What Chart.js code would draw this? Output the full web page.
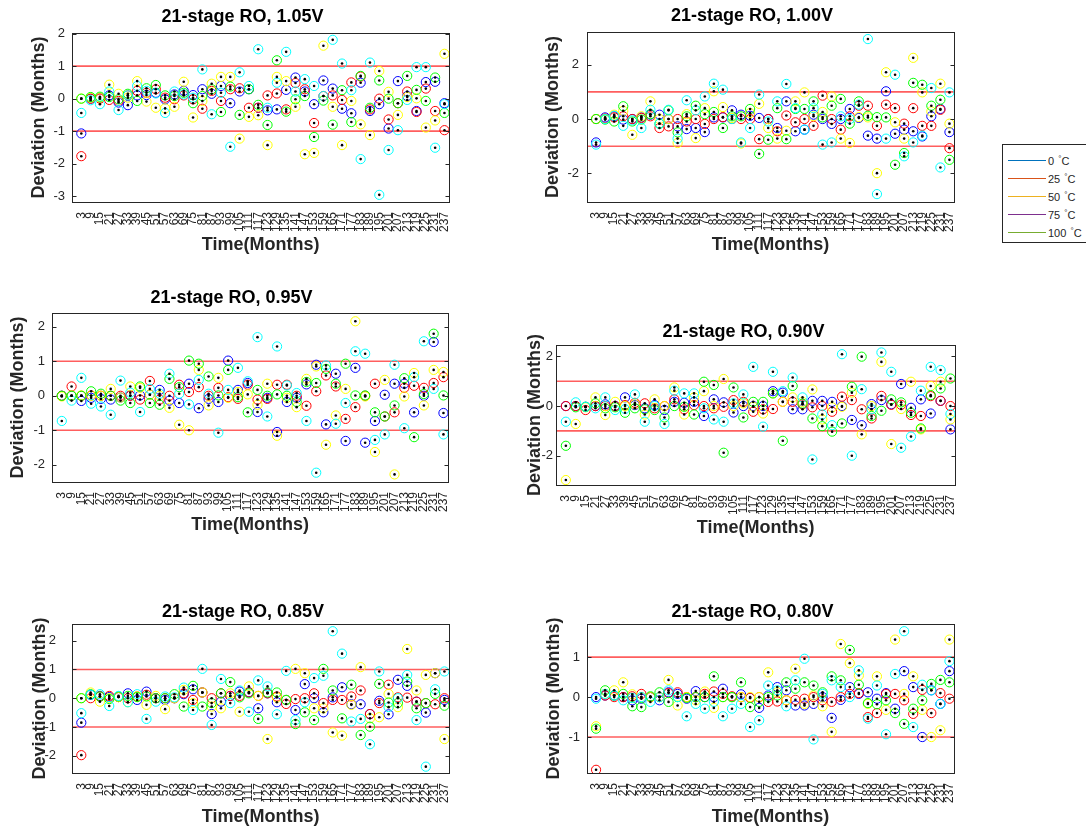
<!DOCTYPE html>
<html>
<head>
<meta charset="utf-8">
<script src="https://cdn.jsdelivr.net/npm/chart.js@4.4.1/dist/chart.umd.min.js"></script>
<style>
  body { margin: 0; background: #fff; width: 1086px; height: 829px; overflow: hidden; position: relative; }
  canvas { position: absolute; }
  #legend { position: absolute; left: 1002px; top: 144px; width: 100px; height: 99px; border: 1px solid #262626; box-sizing: border-box; background: #fff; }
  .swatch { position: absolute; left: 5px; width: 38px; height: 1px; }
  .lbl { position: absolute; left: 45px; font-family: "Liberation Sans", Arial, sans-serif; font-size: 11px; line-height: 12px; color: #262626; white-space: nowrap; }
  .lbl span { font-size: 8px; position: relative; top: -4px; margin-left: 1px; }
</style>
</head>
<body>
<div id="legend"></div>
<script>
// x categories (months)
const months = [3, 9, 15, 21, 27, 33, 39, 45, 51, 57, 63, 69, 75, 81, 87, 93, 99, 105, 111, 117,
  123, 129, 135, 141, 147, 153, 159, 165, 171, 177, 183, 189, 195, 201, 207, 213, 219, 225, 231, 237];

const temps = ['0', '25', '50', '75', '100'];
const limits = [1, -1];

// 1.05V
const b105 = [-1.07, 0, 0.02, 0.1, -0.12, -0.2, 0.1, 0.11, 0.18, -0.02, 0.13, 0.24, 0.11, 0.29, 0.15, 0.39, -0.14, 0.22, 0.29, -0.28,
  -0.36, -0.33, 0.27, 0.65, 0.22, -0.17, 0.56, 0.31, -0.31, -0.45, 0.49, -0.38, -0.17, -0.92, 0.54, 0.08, -0.38, 0.51, 0.52, -0.14];
const r105 = [-1.77, 0, 0, -0.04, -0.07, 0.1, 0.24, 0.18, 0.29, 0.03, -0.02, 0.1, -0.02, -0.31, 0.24, -0.07, 0.29, 0.32, -0.28, -0.28,
  0.1, 0.16, -0.33, 0.48, 0.29, -0.75, 0.08, 0.1, -0.04, 0.5, 0.68, -0.33, 0, -0.64, -0.14, 0.22, -0.41, 0.31, -0.38, -0.97];
const y105 = [0, 0.03, 0.03, 0.43, 0.15, 0.03, 0.54, -0.09, -0.28, -0.3, -0.25, 0.52, -0.58, -0.07, 0.46, 0.67, 0.67, -1.23, -0.56, -0.51,
  -1.43, 0.67, 0.54, -0.25, -1.71, -1.67, 1.63, -0.25, -1.43, -0.07, -0.79, -1.12, 0.85, 0.21, -0.5, 0.05, 0.01, -0.89, -0.67, 1.38];
const g105 = [0, 0.05, 0.06, 0.05, -0.02, 0.15, -0.07, 0.32, 0.42, 0.1, 0.08, 0.18, -0.14, 0.08, 0.29, -0.41, 0.37, -0.5, 0.29, -0.19,
  -0.81, 1.18, -0.4, -0.02, 0.08, -1.18, -0.06, -0.8, 0.26, -0.72, 0.7, -0.28, 0.56, 0, -0.14, 0.7, 0.27, -0.07, 0.65, -0.44];
const c105 = [-0.44, -0.05, -0.17, 0.22, -0.35, 0.1, 0.39, 0.24, 0.16, -0.44, 0.22, 0.13, 0.03, 0.9, -0.48, 0.18, -1.48, 0.81, 0.39, 1.52,
  -0.28, 0.49, 1.44, 0.22, 0.6, 0.39, 0.08, 1.81, 1.08, 0.26, -1.86, 1.11, -2.96, -1.58, -0.97, -0.04, 0.97, 0.97, -1.51, -0.17];

// 1.00V
const b100 = [-0.86, 0.06, 0.1, -0.02, 0, 0.06, 0.16, 0.16, 0, -0.27, -0.37, -0.33, -0.48, 0.06, 0.06, 0.32, 0.16, 0.12, 0.04, 0,
  -0.33, 0.65, -0.45, -0.39, 0.16, 0, -0.18, 0, 0.37, 0.04, -0.61, -0.72, 1.02, -0.54, -0.39, -0.45, -0.64, 0.1, 0.37, -0.48];
const r100 = [0, 0.02, 0.06, 0.1, 0, 0.04, 0.1, -0.33, -0.27, 0, -0.09, 0, -0.18, 0, 0.07, 0, 0, 0, -0.74, 0,
  -0.45, 0.13, -0.12, 0, -0.25, 0.86, 0, -0.39, 0.1, 0.49, 0.49, -0.25, 0.53, 0.4, -0.17, 0.4, -0.25, -0.25, 0.34, -1.07];
const y100 = [0, 0, 0.16, 0.3, -0.58, 0.1, 0.65, 0, 0, -0.88, 0.18, -0.7, 0.4, 1.02, 0.44, 0.04, -0.9, 0.22, 0.56, -0.33,
  -0.72, -0.43, 0.65, 0.98, 0.1, 0.26, 0.83, -0.72, -0.88, 0.07, 0.06, -1.99, 1.72, -0.12, -0.72, 2.25, 0.98, 0.28, 1.3, -0.17];
const g100 = [0, -0.02, -0.09, 0.47, -0.09, -0.02, 0.18, -0.17, 0.32, -0.49, 0.1, 0.49, 0.18, 0.26, -0.33, 0.1, 0.1, 0.37, -1.28, -0.76,
  0.4, -0.74, 0.37, 0.37, 0.65, 0.06, 0.49, 0.74, -0.17, 0.65, 0.12, 0.07, 0.06, -1.68, -1.25, 1.33, 1.26, 0.49, 0.71, -1.5];
const c100 = [-0.94, 0, 0.12, -0.25, -0.05, -0.33, 0.34, -0.17, 0.34, -0.72, 0.69, 0.32, 0.83, 1.3, 1.08, 0, -0.86, -0.33, 0.9, -0.09,
  0.65, 1.29, 0.4, -0.39, 0.4, -0.94, -0.86, 0.1, 0, 0.53, 2.94, -2.76, -0.72, 1.63, -1.37, -0.86, -0.61, 1.14, -1.78, 0.98];

// 0.95V
const b095 = [0, 0, -0.15, -0.06, -0.09, -0.11, -0.05, 0.01, 0.01, 0.03, 0.17, -0.14, -0.21, 0.35, -0.36, -0.09, -0.18, 1.02, 0.17, 0.37,
  -0.47, -0.06, -1.05, -0.18, -0.06, 0.33, 0.9, -0.83, 0.64, -1.31, 0.81, -1.36, -0.73, 0.03, 0.35, 0.35, -0.48, 0, 1.56, -0.5];
const r095 = [0, 0.27, 0, 0.01, 0, 0, 0, 0, -0.11, 0.43, -0.11, 0, 0.32, 0.11, 0.25, 0, 0.23, -0.04, -0.09, 0.32,
  -0.11, -0.09, 0.32, 0.32, 0, -0.29, 0.13, 0.59, 0.27, -0.67, -0.33, 0, 0.35, -0.6, -0.48, 0.23, 0.29, 0.23, 0.37, 0.54];
const y095 = [-0.02, 0.01, 0.01, 0, 0, 0.2, -0.05, 0.27, 0.23, 0.03, 0, -0.35, -0.84, -1.0, 0.75, -0.28, 0.52, -0.06, 0.11, 0.04,
  -0.26, 0.35, -1.16, -0.06, -0.33, 0.49, 0.85, -1.42, -0.57, 0.2, 2.16, -0.02, -1.63, 0.46, -2.28, -0.02, 0.66, -0.28, 0.75, 0.69];
const g095 = [0, 0, 0, 0.13, 0.06, 0, -0.14, -0.21, 0.27, -0.21, -0.26, 0.49, 0.25, 1.02, 0.93, 0.56, 0.01, 0.75, -0.04, -0.48,
  0.17, 0, 0.04, 0, -0.18, 0.4, 0.37, 0.78, 0.35, 0.93, 0.01, 0.01, -0.48, -0.6, -0.28, 0.51, -1.2, 0.05, 1.8, 0.01];
const c095 = [-0.73, -0.14, 0.52, -0.23, -0.31, -0.55, 0.44, 0.09, -0.47, 0.2, 0.06, 0.64, 0.06, -0.25, 0.46, 0.06, -1.07, 0.17, 0.81, 0.42,
  1.7, -0.6, 1.43, 0.3, 0.08, -0.73, -2.23, 0.88, -0.81, -0.21, 1.29, 1.22, -1.28, -1.12, 0.9, -0.94, 0.54, 1.58, 0.2, -1.12];

// 0.90V
const b090 = [0, 0, -0.03, 0, 0.07, 0, 0.35, 0.04, -0.09, 0.04, -0.16, 0.17, 0.13, 0.17, -0.4, 0.27, 0.15, -0.26, 0, 0,
  0, 0.6, 0.54, -0.13, -0.13, 0.21, 0.21, 0.17, 0, -0.56, -0.77, 0.08, 0.24, 0.07, 0.89, -0.07, 0.27, -0.3, 0.21, -0.94];
const r090 = [0, 0, -0.16, 0, 0, 0, 0.04, 0.13, 0.11, -0.09, 0, 0.27, -0.13, 0.04, 0, -0.09, -0.03, 0.24, 0.17, -0.23,
  -0.13, -0.12, 0.17, 0.17, 0.07, -0.05, 0, -0.23, 0.38, 0.24, -0.13, -0.5, 0.41, 0.05, 0.05, -0.36, -0.4, 0.4, 0.21, 0];
const y090 = [-2.98, -0.72, -0.05, 0.35, -0.36, 0.17, 0, 0.07, -0.34, 0.27, 0, 0.75, -0.34, 0.35, 0.6, 0, 1.09, 0, 0.11, -0.03,
  -0.3, 0.51, 0.17, 0.35, 0.17, 0.67, -0.54, -0.05, -0.03, 0.54, -1.14, 0, 1.78, -1.53, -0.12, 0.98, -0.94, 0.81, 0.98, -0.54];
const g090 = [-1.6, -0.05, -0.03, 0.11, -0.09, -0.05, -0.27, -0.09, -0.13, -0.16, -0.46, 0, -0.03, -0.34, 0.98, 0.85, -1.88, 0.75, -0.46, 0.17,
  0.17, 0.51, -1.4, 0.81, 0.1, -0.5, -0.81, -1.03, -0.7, 0.78, 1.99, -0.4, -0.19, 0.27, 0.15, -0.27, -0.9, 0.44, 0.71, 1.11];
const c090 = [-0.63, 0.15, -0.03, -0.09, 0.35, -0.16, -0.12, 0.47, -0.63, 0, -0.72, 0.62, 0.51, 0.51, -0.09, -0.54, -0.63, 0.11, 0.47, 1.58,
  -0.83, 1.38, 0.6, 1.15, 0.35, -2.15, -0.34, -0.77, 2.09, -2.0, 0.68, -0.13, 2.16, 1.38, -1.68, -1.23, 0.62, 1.58, 1.45, -0.32];

// 0.85V
const b085 = [-0.85, 0.12, 0.08, 0.04, 0.04, 0.17, -0.06, 0.23, 0, -0.06, 0, 0.14, 0.31, 0.2, -0.55, -0.12, 0.08, 0.23, 0.21, -0.35,
  0.17, -0.14, -0.06, -0.41, 0.49, 0, -0.49, 0.03, 0.38, -0.21, -0.21, -0.55, -0.09, -0.56, 0.64, 0.43, -0.12, -0.5, 0.87, -0.06];
const r085 = [-1.98, 0, 0.06, 0.08, 0.04, 0, 0.06, 0.12, 0, 0, 0, 0.17, -0.06, 0.2, 0, 0.17, 0.08, 0.08, 0.2, 0.08,
  0.17, 0.06, -0.2, -0.03, 0, 0.17, -0.17, -0.06, -0.06, 0.06, 0.27, -0.55, -0.17, 0.47, 0.03, 0.02, -0.12, -0.17, -0.21, 0];
const y085 = [0, 0.2, -0.12, 0, 0.04, -0.14, 0.06, -0.23, 0.08, -0.38, 0, 0.29, -0.17, 0.2, -0.29, -0.35, 0.17, -0.47, 0.41, 0.08,
  -1.42, 0.03, -0.06, 1.02, 0.87, -0.35, -0.35, -1.19, -1.3, -0.23, 1.08, -0.7, -0.66, 0.15, -0.31, 1.71, 0.27, 0.81, 0.87, -1.42];
const g085 = [0, 0.14, 0.06, -0.03, 0.06, 0.08, 0.04, 0.06, 0, 0, 0.14, -0.29, 0.43, -0.29, -0.17, 0.17, 0.56, 0.03, 0.17, -0.72,
  0.2, 0.2, -0.06, -0.9, -0.49, -0.76, 1.02, 0.27, -0.7, 0.47, -1.28, -0.99, 0.5, -0.15, -0.17, 0.58, -0.35, -0.17, 0.15, -0.26];
const c085 = [-0.52, 0.12, 0.14, -0.27, 0.08, -0.14, 0.14, -0.72, -0.12, 0.06, 0.03, 0.37, -0.41, 1.02, -0.93, 0.67, -0.17, 0.27, -0.47, 0.62,
  0.41, -0.56, 0.95, -0.76, -0.14, 0.7, 0.78, 2.33, 1.55, -0.81, -0.72, -1.6, 0.93, -0.31, 0, 0.81, -0.76, -2.38, 0.31, 0.93];

// 0.80V
const b080 = [0, 0.04, 0.04, 0, -0.08, -0.04, 0, -0.08, 0.12, 0.08, -0.04, 0.15, 0, 0, 0.21, 0, 0.07, -0.02, -0.27, 0.04,
  0.25, 0.17, -0.21, -0.21, -0.17, 0, -0.52, -0.07, 0.25, 0.08, 0.12, -0.04, 0.1, -0.29, 0.65, 0.25, -1.0, 0.17, -0.17, 0.65];
const r080 = [-1.82, 0.04, 0, 0, 0.02, 0.08, 0, 0, 0.1, 0.12, 0, 0, 0.08, 0.14, 0.08, 0.02, 0, -0.02, 0, -0.12,
  -0.11, -0.08, -0.07, -0.04, 0, -0.08, -0.12, 0, 0.08, 0.1, -0.5, -0.4, 0.08, 0.08, -0.08, -0.42, 0.18, -0.4, 0.1, -0.04];
const y080 = [-0.73, 0.08, 0.17, 0.37, 0.07, 0, 0, 0, 0.43, -0.21, 0, -0.08, 0.14, -0.27, 0, 0, 0, 0, 0, 0.62,
  0.12, -0.08, 0.71, -0.17, 0.04, -0.23, -0.87, 1.33, 0.85, 0.54, -0.17, 0.52, -0.32, 1.44, 0.08, 0.52, -0.32, -1.0, -0.83, 1.44];
const g080 = [-0.79, 0.17, 0.04, 0.08, -0.23, -0.25, 0.02, 0.12, -0.12, 0, -0.02, 0, 0, 0.52, 0, 0, 0.37, -0.25, -0.12, 0,
  0.04, 0.37, 0.21, 0.37, 0.29, 0.12, 0.52, 0.42, 1.18, 0.31, -0.15, -0.18, -0.08, -0.4, -0.67, -0.29, -0.08, 0.33, 0.43, 0.37];
const c080 = [-0.04, 0.08, 0.04, -0.08, -0.02, 0, -0.12, 0, 0.17, 0, -0.48, -0.17, -0.29, -0.12, -0.48, -0.29, -0.17, -0.75, -0.58, 0.29,
  0.17, -0.23, 0.42, 0.96, -1.06, 0.08, 0.42, 0.25, 0, 0.67, -0.54, 0.29, -0.93, 0.58, 1.65, -0.75, 0.31, 0.17, -0.17, 0.9];

// y tick labels per panel
const yTicks105 = [-3, -2, -1, 0, 1, 2];
const yTicks100 = [-2, 0, 2];
const yTicks095 = [-2, -1, 0, 1, 2];
const yTicks090 = [-2, 0, 2];
const yTicks085 = [-2, -1, 0, 1, 2];
const yTicks080 = [-1, 0, 1];

const markerColors = ['#0000ff', '#ff0000', '#ffff00', '#00ff00', '#00ffff'];
const legendColors = ['#0072BD', '#D95319', '#EDB120', '#7E2F8E', '#77AC30'];

Chart.defaults.font.family = '"Liberation Sans", Arial, Helvetica, sans-serif';
Chart.defaults.color = '#262626';

// box = [left, top, right, bottom] of the axes in page pixels
const panels = [
  { title: '21-stage RO, 1.05V', series: [b105, r105, y105, g105, c105], ticks: yTicks105, yMin: -3.18, yMax: 2.02,
    box: [72, 33, 457, 202], titleY: 17, ylabelX: 39, xlabelY: 245, tickPad: 7 },
  { title: '21-stage RO, 1.00V', series: [b100, r100, y100, g100, c100], ticks: yTicks100, yMin: -3.05, yMax: 3.2,
    box: [587, 32, 962, 202], titleY: 16, ylabelX: 553, xlabelY: 245, tickPad: 8 },
  { title: '21-stage RO, 0.95V', series: [b095, r095, y095, g095, c095], ticks: yTicks095, yMin: -2.5, yMax: 2.4,
    box: [52, 313, 456, 482], titleY: 298, ylabelX: 18, xlabelY: 525, tickPad: 7 },
  { title: '21-stage RO, 0.90V', series: [b090, r090, y090, g090, c090], ticks: yTicks090, yMin: -3.18, yMax: 2.46,
    box: [556, 345, 963, 485], titleY: 332, ylabelX: 535, xlabelY: 528, tickPad: 3 },
  { title: '21-stage RO, 0.85V', series: [b085, r085, y085, g085, c085], ticks: yTicks085, yMin: -2.6, yMax: 2.58,
    box: [72, 624, 457, 773], titleY: 612, ylabelX: 40, xlabelY: 817, tickPad: 16 },
  { title: '21-stage RO, 0.80V', series: [b080, r080, y080, g080, c080], ticks: yTicks080, yMin: -1.9, yMax: 1.83,
    box: [587, 624, 962, 773], titleY: 612, ylabelX: 554, xlabelY: 817, tickPad: 7 },
];

// frame, inward ticks, +-1 limit lines and the black centre dots
const axesDecor = {
  id: 'axesDecor',
  beforeDatasetsDraw(chart) {
    const { ctx, chartArea: a, scales: { y } } = chart;
    ctx.save();
    ctx.strokeStyle = 'rgba(255,40,40,0.75)';
    ctx.lineWidth = 1.6;
    limits.forEach(v => {
      const py = y.getPixelForValue(v);
      ctx.beginPath();
      ctx.moveTo(a.left, py);
      ctx.lineTo(a.right, py);
      ctx.stroke();
    });
    ctx.restore();
  },
  afterDatasetsDraw(chart) {
    const { ctx, chartArea: a, scales: { y } } = chart;
    ctx.save();
    ctx.fillStyle = '#000';
    chart.data.datasets.forEach((ds, i) => {
      chart.getDatasetMeta(i).data.forEach(pt => {
        ctx.beginPath();
        ctx.arc(pt.x, pt.y, 1.3, 0, Math.PI * 2);
        ctx.fill();
      });
    });
    ctx.strokeStyle = '#262626';
    ctx.lineWidth = 1;
    const L = Math.round(a.left) + 0.5, R = Math.round(a.right) + 0.5;
    const T = Math.round(a.top) + 0.5, B = Math.round(a.bottom) + 0.5;
    ctx.strokeRect(L, T, R - L, B - T);
    ctx.beginPath();
    y.ticks.forEach(t => {
      const py = Math.round(y.getPixelForValue(t.value)) + 0.5;
      ctx.moveTo(L, py); ctx.lineTo(L + 4, py);
      ctx.moveTo(R, py); ctx.lineTo(R - 4, py);
    });
    ctx.stroke();
    ctx.restore();
  }
};

panels.forEach(p => {
  const [l, t, r, b] = p.box;
  const half = 10.8; // half line height of 18px bold text
  const cLeft = Math.round(p.ylabelX - half);
  const cTop = Math.round(p.titleY - 12);
  const cBottom = Math.round(p.xlabelY + half);
  const padRight = 12;
  const width = r + padRight - cLeft;
  const height = cBottom - cTop;
  const yw = l - cLeft;
  const xh = cBottom - b;
  const titleBottom = (t - cTop) - 1.2 - 21.6;

  const canvas = document.createElement('canvas');
  canvas.width = width;
  canvas.height = height;
  canvas.style.left = cLeft + 'px';
  canvas.style.top = cTop + 'px';
  canvas.style.width = width + 'px';
  canvas.style.height = height + 'px';
  document.body.appendChild(canvas);

  // draw cyan last so it sits on top (dataset 0 is painted last)
  const order = [4, 3, 2, 1, 0];
  const datasets = order.map(k => ({
    label: temps[k] + ' °C',
    data: months.map((m, i) => ({ x: m, y: p.series[k][i] })),
    borderColor: markerColors[k],
    backgroundColor: 'rgba(0,0,0,0)',
    borderWidth: 1,
    pointRadius: 4.6,
    pointHoverRadius: 4.6,
  }));

  new Chart(canvas, {
    type: 'scatter',
    data: { datasets },
    options: {
      responsive: false,
      animation: false,
      events: [],
      layout: { padding: { left: 0, right: padRight, top: 0, bottom: 0 } },
      plugins: {
        legend: { display: false },
        tooltip: { enabled: false },
        title: {
          display: true,
          text: p.title,
          color: '#000',
          font: { size: 18, weight: 'bold' },
          padding: { top: 1.2, bottom: titleBottom },
        },
      },
      scales: {
        x: {
          type: 'linear',
          min: -3,
          max: 240,
          grid: { display: false, drawTicks: false },
          border: { display: false },
          afterBuildTicks: s => { s.ticks = months.map(v => ({ value: v })); },
          afterFit: s => { s.height = xh; },
          ticks: {
            autoSkip: false,
            minRotation: 90,
            maxRotation: 90,
            padding: 10,
            color: '#262626',
            font: { size: 12 },
            callback: v => String(v),
          },
          title: {
            display: true,
            text: 'Time(Months)',
            color: '#262626',
            font: { size: 18, weight: 'bold' },
            padding: { top: 0, bottom: 0 },
          },
        },
        y: {
          type: 'linear',
          min: p.yMin,
          max: p.yMax,
          grid: { display: false, drawTicks: false },
          border: { display: false },
          afterBuildTicks: s => { s.ticks = p.ticks.map(v => ({ value: v })); },
          afterFit: s => { s.width = yw; },
          ticks: {
            autoSkip: false,
            padding: p.tickPad,
            color: '#262626',
            font: { size: 13 },
            callback: v => String(v),
          },
          title: {
            display: true,
            text: 'Deviation (Months)',
            color: '#262626',
            font: { size: 18, weight: 'bold' },
            padding: { top: 0, bottom: 0 },
          },
        },
      },
    },
    plugins: [axesDecor],
  });
});

// legend box (cut by the page edge, like the original)
const legend = document.getElementById('legend');
temps.forEach((t, i) => {
  const yMid = 15 + i * 18;
  const sw = document.createElement('div');
  sw.className = 'swatch';
  sw.style.top = yMid + 'px';
  sw.style.background = legendColors[i];
  legend.appendChild(sw);
  const lbl = document.createElement('div');
  lbl.className = 'lbl';
  lbl.style.top = (yMid - 5) + 'px';
  lbl.innerHTML = t + ' <span>°</span>C';
  legend.appendChild(lbl);
});
</script>
</body>
</html>
